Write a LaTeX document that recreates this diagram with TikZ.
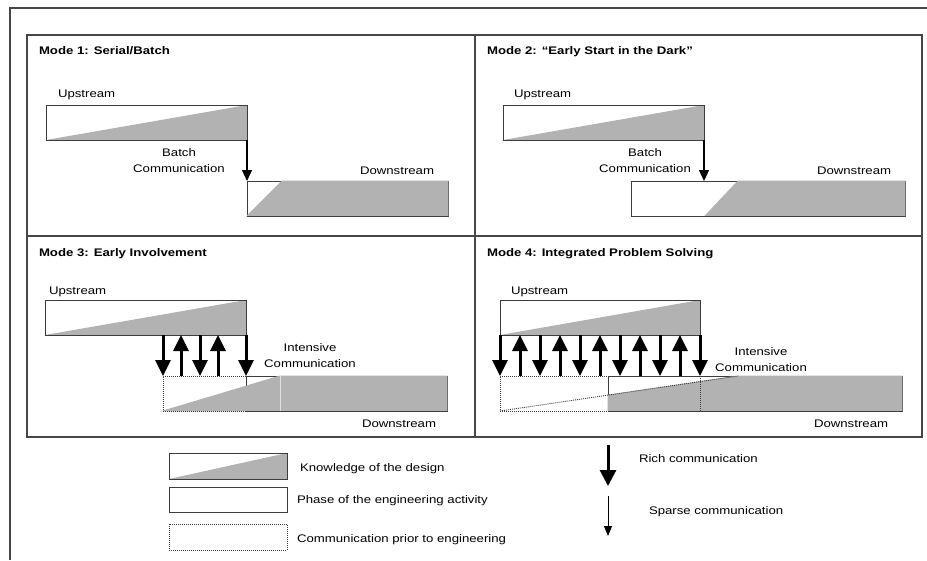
\documentclass[tikz,border=0pt]{standalone}
\usepackage{fontspec}
\setmainfont[FakeStretch=1.2]{Liberation Sans}
\usetikzlibrary{arrows.meta, calc}
\definecolor{knowgray}{RGB}{178,178,178}
\definecolor{boxgray}{RGB}{60,60,60}
\definecolor{framegray}{RGB}{70,70,70}

\begin{document}
\begin{tikzpicture}[
    x=1pt, y=-1pt,
    every node/.style={inner sep=0pt, outer sep=0pt},
    txt/.style={font=\fontsize{11}{15.5}\selectfont, anchor=base west},
    headline/.style={txt, font=\fontsize{11}{15.5}\selectfont\bfseries},
    comm/.style={font=\fontsize{11}{15.5}\selectfont, align=center, anchor=north},
    panel/.style={draw=framegray, line width=1.6pt, anchor=north west, minimum width=447pt, minimum height=201pt},
    phase/.style={draw=boxgray, line width=0.9pt, anchor=north west, minimum height=35pt},
    prior/.style={phase, draw=black!75, dash pattern=on 1pt off 1pt},
    knowledge/.style={phase, path picture={\fill[knowgray] (path picture bounding box.south west) -- (path picture bounding box.north east) -- (path picture bounding box.south east) -- cycle;}},
    know/.style={fill=knowgray, draw=knowgray, line width=0.9pt},
    boxline/.style={draw=boxgray, line width=0.9pt},
    priorline/.style={draw=black!75, line width=0.9pt, dash pattern=on 1pt off 1pt},
    rich/.style={-{Triangle[width=15pt,length=16pt]}, line width=3pt},
    sparse/.style={-{Triangle[width=10pt,length=11pt]}, line width=1.2pt}
]
\useasboundingbox (0,0) rectangle (927,560);

% Frame and panels
\draw[framegray, line width=1.5pt] (10,560) -- (10,8) -- (927,8);
\node[panel, minimum width=448pt] (p1) at (27,35) {};
\node[panel] (p2) at (475,35) {};
\node[panel, minimum width=448pt] (p3) at (27,236) {};
\node[panel] (p4) at (475,236) {};

% Mode 1
\node[headline] (t1) at (39,54) {Mode 1: Serial/Batch};
\node[txt] (u1lab) at (58,97) {Upstream};
\node[knowledge, minimum width=201pt] (up1) at (46,105) {};
\node[phase, minimum width=201pt] (dn1) at (247,181) {};
\fill[know] (dn1.south west) -- ([xshift=35pt]dn1.north west) -- (dn1.north east) -- (dn1.south east) -- cycle;
\draw[boxline] (dn1.south west) -- (dn1.south east);
\draw[sparse] (up1.south east) -- (dn1.north west);
\node[comm] (b1) at (179,149) {Batch\\Communication};
\node[txt] (d1lab) at (360,174) {Downstream};

% Mode 2
\node[headline] (t2) at (487,54) {Mode 2: “Early Start in the Dark”};
\node[txt] (u2lab) at (514,97) {Upstream};
\node[knowledge, minimum width=201pt] (up2) at (503,105) {};
\node[phase, minimum width=274pt] (dn2) at (631,181) {};
\fill[know] ([xshift=74pt]dn2.south west) -- ([xshift=107pt]dn2.north west) -- (dn2.north east) -- (dn2.south east) -- cycle;
\draw[boxline] (dn2.south west) -- (dn2.south east);
\draw[sparse] (up2.south east) -- (up2.south east |- dn2.north);
\node[comm] (b2) at (645,149) {Batch\\Communication};
\node[txt] (d2lab) at (817,174) {Downstream};

% Mode 3
\node[headline] (t3) at (39,256) {Mode 3: Early Involvement};
\node[txt] (u3lab) at (49,294) {Upstream};
\node[knowledge, minimum width=201pt] (up3) at (45,300) {};
\node[prior, minimum width=83pt] (pre3) at (163,376) {};
\node[phase, minimum width=201pt] (dn3) at (246,376) {};
\fill[know] (pre3.south west) -- ([xshift=34pt]dn3.north west) -- (dn3.north east) -- (dn3.south east) -- cycle;
\draw[white!60!knowgray, line width=0.6pt] ([xshift=34pt]dn3.north west) -- ([xshift=34pt]dn3.south west);
\draw[boxline] (dn3.south west) -- (dn3.south east);
\draw[priorline] (pre3.south west) -- (pre3.south east);
\foreach \dx [count=\i] in {0,18,37,55,83} {
  \coordinate (lo) at ([xshift=\dx pt]pre3.north west);
  \coordinate (hi) at (lo |- up3.south);
  \ifodd\i \draw[rich] (hi) -- (lo); \else \draw[rich] (lo) -- (hi); \fi
}
\node[comm] (ic3) at (310,344) {Intensive\\Communication};
\node[txt] (d3lab) at (362,427) {Downstream};

% Mode 4
\node[headline] (t4) at (487,256) {Mode 4: Integrated Problem Solving};
\node[txt] (u4lab) at (511,294) {Upstream};
\node[knowledge, minimum width=200pt] (up4) at (500,300) {};
\node[prior, minimum width=200pt] (pre4) at (500,376) {};
\node[phase, minimum width=294pt] (dn4) at (608,376) {};
\coordinate (k4) at ([xshift=130pt]dn4.north west);
\coordinate (m4) at ($(pre4.south west)!0.4538!(k4)$);
\fill[know] (m4) -- (k4) -- (dn4.north east) -- (dn4.south east) -- (dn4.south west) -- cycle;
\draw[priorline] (pre4.south west) -- (k4);
\draw[priorline] (pre4.north east) -- (pre4.south east);
\draw[boxline] (dn4.south west) -- (dn4.south east);
\foreach \dx [count=\i] in {0,20,...,200} {
  \coordinate (lo) at ([xshift=\dx pt]pre4.north west);
  \coordinate (hi) at (lo |- up4.south);
  \ifodd\i \draw[rich] (hi) -- (lo); \else \draw[rich] (lo) -- (hi); \fi
}
\node[comm] (ic4) at (761,348) {Intensive\\Communication};
\node[txt] (d4lab) at (814,427) {Downstream};

% Legend
\node[knowledge, minimum width=118pt, minimum height=26pt] (lkn) at (169,453) {};
\node[phase, minimum width=118pt, minimum height=25pt] (lph) at (169,487) {};
\node[prior, minimum width=118pt, minimum height=26pt] (lpr) at (169,524) {};
\node[txt] (lkntxt) at (300,471.5) {Knowledge of the design};
\node[txt] (lphtxt) at (297,503) {Phase of the engineering activity};
\node[txt] (lprtxt) at (297,542.5) {Communication prior to engineering};
\coordinate (rtop) at (608,445);
\coordinate (rbot) at (608,486);
\coordinate (stop) at (608,496);
\coordinate (sbot) at (608,536);
\draw[rich, -{Triangle[width=16pt,length=16pt]}] (rtop) -- (rbot);
\draw[sparse, line width=1pt, -{Triangle[width=8pt,length=10pt]}] (stop) -- (sbot);
\node[txt] (richtxt) at (639,462.5) {Rich communication};
\node[txt] (sparsetxt) at (649,514) {Sparse communication};

\end{tikzpicture}
\end{document}
